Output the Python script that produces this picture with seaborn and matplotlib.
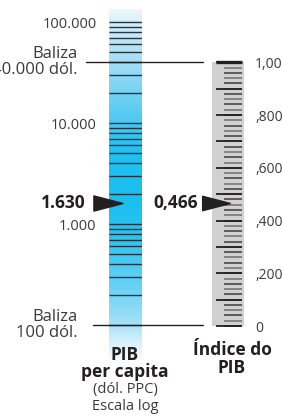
import numpy as np
import matplotlib
matplotlib.use("Agg")
import matplotlib.pyplot as plt
import matplotlib.transforms as mtransforms
from matplotlib.colors import LinearSegmentedColormap
from matplotlib.path import Path
from matplotlib.ticker import NullLocator
import seaborn as sns

# --- data -------------------------------------------------------------
gdp_ticks = [100, 200, 300, 400, 500, 600, 700, 800, 900,
             1000, 2000, 3000, 4000, 5000, 6000, 7000, 8000, 9000,
             10000, 20000, 30000, 40000, 50000, 60000, 70000, 80000, 90000,
             100000]
gdp_label_values = [1000, 10000, 100000]
gdp_label_texts = ["1.000", "10.000", "100.000"]
goalposts = [40000, 100]
goalpost_texts = ["Baliza\n40.000 dól.", "Baliza\n100 dól."]
gdp_value = 1630
gdp_value_text = "1.630"

index_major = [0.0, 0.1, 0.2, 0.3, 0.4, 0.5, 0.6, 0.7, 0.8, 0.9, 1.0]
index_minor = [round(i * 0.02, 2) for i in range(51)]
index_label_values = [0.0, 0.2, 0.4, 0.6, 0.8, 1.0]
index_label_texts = ["0", ",200", ",400", ",600", ",800", "1,00"]
index_value = 0.466
index_value_text = "0,466"

# --- style ------------------------------------------------------------
sns.set_theme(style="white")
plt.rcParams["font.family"] = ["Open Sans", "DejaVu Sans"]

W, H = 282, 419
fig = plt.figure(figsize=(W / 100, H / 100), dpi=100)


def box(x0, y0, x1, y1):
    return [x0 / W, 1 - y1 / H, (x1 - x0) / W, (y1 - y0) / H]


dark = "#231f20"
text_grey = "#3a3a3a"
arrow = Path([(-1, -0.52), (1, 0), (-1, 0.52), (-1, -0.52)],
             [Path.MOVETO, Path.LINETO, Path.LINETO, Path.CLOSEPOLY])

# --- left bar: GDP per capita (log) ----------------------------------
axL = fig.add_axes(box(109, 9, 142, 365))
axL.set_yscale("log")
axL.set_ylim(10 ** (2 - 40 / 101), 10 ** (5 + 13 / 101))
axL.set_xlim(0, 1)

cmap = LinearSegmentedColormap.from_list("pib", [
    (0.0, "#ffffff"), (0.07, "#d0eefa"), (0.112, "#a8e2f8"),
    (0.21, "#6dd2f5"), (0.35, "#2ec4f2"), (0.46, "#1abff0"),
    (0.60, "#20c1f0"), (0.744, "#6ccff4"), (0.854, "#a4def6"),
    (0.963, "#d6effb"), (1.0, "#eef8fd")])
grad = np.linspace(0, 1, 256).reshape(-1, 1)
axL.imshow(grad, cmap=cmap, aspect="auto", origin="lower",
           extent=[0, 1, 0, 1], transform=axL.transAxes, zorder=0)

sns.rugplot(y=gdp_ticks, ax=axL, height=1, color="#26343d",
            lw=1.2, expand_margins=False)

axL.set_yticks(gdp_label_values, gdp_label_texts)
axL.yaxis.set_minor_locator(NullLocator())
axL.set_xticks([])
axL.tick_params(axis="y", length=0, pad=9, labelsize=10.5, labelcolor=text_grey)
for s in axL.spines.values():
    s.set_visible(False)

for val, txt, x0 in zip(goalposts, goalpost_texts, [86, 93]):
    axL.axhline(val, xmin=(x0 - 109) / 33, xmax=(203 - 109) / 33,
                color=dark, lw=1, clip_on=False)
    axL.annotate(txt, xy=(0, val), xycoords=("axes fraction", "data"),
                 xytext=(-31, 0), textcoords="offset pixels",
                 ha="right", va="center", multialignment="right",
                 fontsize=12, color=text_grey, linespacing=1.0)

blendL = mtransforms.blended_transform_factory(axL.transAxes, axL.transData)
axL.plot([-0.045], [gdp_value], marker=arrow, ms=21, color=dark,
         transform=blendL, clip_on=False)
axL.annotate(gdp_value_text, xy=(0, gdp_value),
             xycoords=("axes fraction", "data"),
             xytext=(-23, 0), textcoords="offset pixels",
             ha="right", va="center", fontsize=12.5, fontweight="bold",
             color=dark)

# --- right bar: GDP index ---------------------------------------------
axR = fig.add_axes(box(212, 62.3, 244, 326))
axR.set_ylim(0, 1)
axR.set_xlim(0, 1)
axR.set_facecolor("#d1d1d1")
axR.hlines(index_minor[::2], 12 / 32, 30 / 32, color="#3c3c3c", lw=1.1,
           clip_on=False)
axR.hlines(index_minor[1::2], 12 / 32, 30 / 32, color="#6e6e6e", lw=1.1,
           clip_on=False)
axR.hlines(index_major, 4 / 32, 30 / 32, color=dark, lw=1.3, clip_on=False)
axR.hlines([1.0], 4 / 32, 30 / 32, color=dark, lw=2.4, clip_on=False)

axR.yaxis.tick_right()
axR.set_yticks(index_label_values, index_label_texts)
axR.set_xticks([])
axR.tick_params(axis="y", length=0, pad=8, labelsize=10, labelcolor=text_grey)
for s in axR.spines.values():
    s.set_visible(False)

blendR = mtransforms.blended_transform_factory(axR.transAxes, axR.transData)
axR.plot([0.14], [index_value], marker=arrow, ms=20, color=dark,
         transform=blendR, clip_on=False)
axR.annotate(index_value_text, xy=(0, index_value),
             xycoords=("axes fraction", "data"),
             xytext=(-14, 0), textcoords="offset pixels",
             ha="right", va="center", fontsize=12.5, fontweight="bold",
             color=dark)

# --- captions ---------------------------------------------------------
def caption(x, y, txt, **kw):
    fig.text(x / W, 1 - y / H, txt, ha="center", va="center", **kw)


caption(125, 355, "PIB", fontsize=12.5, fontweight="bold", color=dark)
caption(125, 372, "per capita", fontsize=12.5, fontweight="bold", color=dark)
caption(125, 389, "(dól. PPC)", fontsize=10.5, color=text_grey)
caption(125, 406, "Escala log", fontsize=10.5, color=text_grey)
caption(232, 350, "Índice do", fontsize=12.5, fontweight="bold", color=dark)
caption(232, 368, "PIB", fontsize=12.5, fontweight="bold", color=dark)

fig.savefig("out.png", dpi=100)
